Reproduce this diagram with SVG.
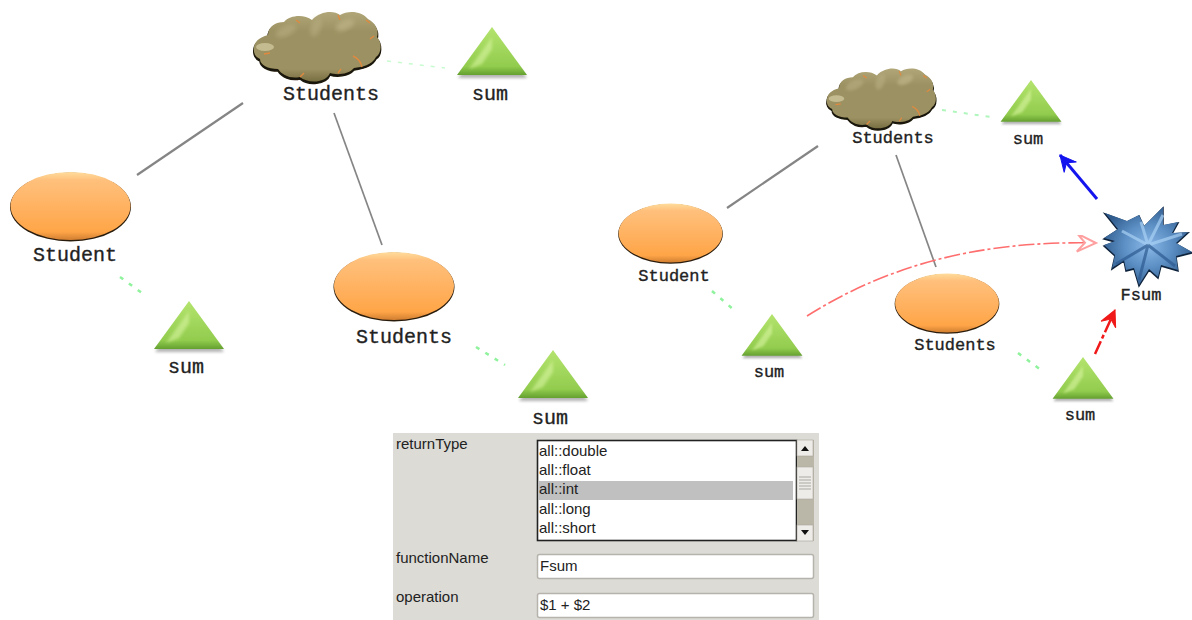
<svg xmlns="http://www.w3.org/2000/svg" width="1192" height="620" viewBox="0 0 1192 620">
<style>
.lbl{font-family:"Liberation Mono","DejaVu Sans Mono",monospace;text-anchor:middle;fill:#222;stroke:#222;stroke-width:.35}
.big{font-size:20px}.small{font-size:17px}
.ui{font-family:"Liberation Sans",Arial,sans-serif;font-size:15px;fill:#222}
.gray{stroke:#858585;fill:none}
.dot{stroke:#8ff29c;stroke-width:2.5;stroke-dasharray:4 7;fill:none}
.field{fill:#fff;stroke:#b5b3ac;stroke-width:1.5}
</style>
<defs>
<linearGradient id="og" x1="0" y1="0" x2="0" y2="1"><stop offset="0" stop-color="#ffdc9c"/><stop offset=".12" stop-color="#ffc07c"/><stop offset=".88" stop-color="#ffa548"/><stop offset="1" stop-color="#d07e30"/></linearGradient>
<linearGradient id="tg" x1="0" y1="0" x2="0" y2="1"><stop offset="0" stop-color="#b4e46e"/><stop offset=".82" stop-color="#92cc4e"/><stop offset="1" stop-color="#64a030"/></linearGradient>
<linearGradient id="cg" x1="0" y1="0" x2="0" y2="1"><stop offset="0" stop-color="#b0a678"/><stop offset=".28" stop-color="#9c9162"/><stop offset=".82" stop-color="#9c9162"/><stop offset="1" stop-color="#776e42"/></linearGradient>
<radialGradient id="sg" cx=".5" cy=".5" r=".55"><stop offset="0" stop-color="#8ab8e8"/><stop offset=".5" stop-color="#5c8fc4"/><stop offset="1" stop-color="#2f5a8c"/></radialGradient>
<filter id="soft" x="-10%" y="-10%" width="120%" height="120%"><feGaussianBlur stdDeviation=".45"/></filter>
<filter id="sh" x="-20%" y="-20%" width="140%" height="140%"><feGaussianBlur stdDeviation="1.5"/></filter>
<filter id="blur2" x="-20%" y="-20%" width="140%" height="140%"><feGaussianBlur stdDeviation="2"/></filter>
<g id="oval" filter="url(#soft)">
<ellipse cx="0" cy="1" rx="60.5" ry="34.5" fill="#2a1c0c"/>
<ellipse cx="0" cy="0" rx="60" ry="34" fill="url(#og)"/>
</g>
<g id="tri">
<polygon points="-34,51 0,6 35,51" fill="#777" opacity=".55" filter="url(#sh)"/>
<polygon points="0,0 -35,48 35,48" fill="url(#tg)" filter="url(#soft)"/>
<polygon points="0,10 -23,42 -10,37 0,22" fill="#d8f4a0" opacity=".6" filter="url(#sh)"/>
</g>
<path id="cl" d="M0,38 C1,30 10,27 14,26 C14,17 22,13 30,13 C36,6 50,5 58,11 C66,2 80,1 86,6 C94,1 108,2 114,10 C122,14 125,22 123,28 C128,33 128,44 122,48 C118,56 108,58 100,59 C94,66 82,66 76,64 C72,74 54,75 46,68 C36,70 28,66 24,60 C14,60 6,56 6,50 C1,48 -1,43 0,38 Z"/>
<g id="cloud" filter="url(#soft)">
<use href="#cl" x="0" y="2" fill="#1a1608" stroke="#1a1608" stroke-width="1.5"/>
<use href="#cl" fill="url(#cg)"/>
<ellipse cx="11" cy="38" rx="9" ry="4" fill="#c4bb90" filter="url(#soft)"/>
<ellipse cx="32" cy="22" rx="11" ry="5" fill="#b4aa7e" opacity=".7" filter="url(#blur2)" transform="rotate(-25 32 22)"/>
<ellipse cx="62" cy="18" rx="5" ry="10" fill="#b4aa7e" opacity=".7" filter="url(#blur2)" transform="rotate(20 62 18)"/>
<ellipse cx="91" cy="16" rx="10" ry="5" fill="#bab084" opacity=".8" filter="url(#blur2)" transform="rotate(-25 91 16)"/>
<path d="M99,47 Q106,50 108,58 M42,11 L46,14 M10,45 L16,44 M84,6 L86,11 M112,11 L116,14 M116,30 L120,27 M46,68 L50,64 M84,64 L87,60" stroke="#e08a40" stroke-width="1.4" fill="none"/>
</g>
<path id="burst" d="M1105,213 L1127,221 L1139,215 L1144,226 L1163,207 L1163,225 L1178,222 L1172,233 L1188,232 L1176,243 L1192,252 L1176,256 L1178,270 L1161,265 L1158,277 L1149,269 L1139,285 L1134,268 L1126,270 L1124,260 L1112,268 L1115,255 L1104,245 L1115,241 L1104,238 L1118,229 Z"/>
<marker id="mb" markerUnits="userSpaceOnUse" markerWidth="22" markerHeight="22" refX="18" refY="10" orient="auto"><path d="M2,2 L18,10 L2,18 L8,10 Z" fill="#1414ee" stroke="#1414ee"/></marker>
<marker id="mr" markerUnits="userSpaceOnUse" markerWidth="22" markerHeight="22" refX="18" refY="10" orient="auto"><path d="M2,2 L18,10 L2,18 L8,10 Z" fill="#f01818" stroke="#f01818"/></marker>
<marker id="mp" markerUnits="userSpaceOnUse" markerWidth="26" markerHeight="26" refX="22" refY="12" orient="auto"><path d="M3,3 L22,12 L3,21 L11,12 Z" fill="#fff" stroke="#ffa0a0" stroke-width="2"/></marker>
</defs>
<rect width="1192" height="620" fill="#fff"/>

<g id="connectors">
<path class="gray" stroke-width="2.2" d="M243,103 L137,175"/>
<path class="gray" stroke-width="1.7" d="M334,113 L382,245"/>
<path class="dot" style="stroke:#c8fbd0;stroke-width:1.5" d="M387,61 L445,68"/>
<path class="dot" d="M120,277 L146,296"/>
<path class="dot" d="M476,347 L505,365"/>
<path class="gray" stroke-width="2.2" d="M818,146 L727,208"/>
<path class="gray" stroke-width="1.7" d="M896,155 L936,267"/>
<path class="dot" style="stroke:#b0f6bc;stroke-width:2" d="M942,110 L991,117"/>
<path class="dot" d="M712,291 L734,310"/>
<path class="dot" d="M1018,353 L1041,370"/>
<path d="M807,316 C880,270 970,240 1096,243" fill="none" stroke="#ff6e6e" stroke-width="1.6" stroke-dasharray="16 3 3 3" marker-end="url(#mp)" filter="url(#soft)"/>
<path d="M1097,199 L1060,155" fill="none" stroke="#1414ee" stroke-width="3" marker-end="url(#mb)"/>
<path d="M1095,354 L1115,310" fill="none" stroke="#f01818" stroke-width="2.5" stroke-dasharray="14 3 4 3" marker-end="url(#mr)"/>
</g>

<g id="n1"><use href="#cloud" transform="translate(254,9)"/><text class="lbl big" x="331" y="100">Students</text></g>
<g id="n2"><use href="#tri" transform="translate(492,27)"/><text class="lbl big" x="490" y="100">sum</text></g>
<g id="n3"><use href="#oval" transform="translate(70.5,206)"/><text class="lbl big" x="75" y="261">Student</text></g>
<g id="n4"><use href="#tri" transform="translate(189,301)"/><text class="lbl big" x="186" y="373">sum</text></g>
<g id="n5"><use href="#oval" transform="translate(394,286)"/><text class="lbl big" x="404" y="343">Students</text></g>
<g id="n6"><use href="#tri" transform="translate(553,350)"/><text class="lbl big" x="550" y="424">sum</text></g>

<g id="n7"><use href="#cloud" transform="translate(827,66) scale(.86)"/><text class="lbl small" x="893" y="143">Students</text></g>
<g id="n8"><use href="#tri" transform="translate(1031,80) scale(.87)"/><text class="lbl small" x="1028" y="144">sum</text></g>
<g id="n9"><use href="#oval" transform="translate(670.5,233) scale(.865)"/><text class="lbl small" x="674" y="281">Student</text></g>
<g id="n10"><use href="#tri" transform="translate(772,314) scale(.87)"/><text class="lbl small" x="769" y="377">sum</text></g>
<g id="n11"><use href="#oval" transform="translate(947,303) scale(.865)"/><text class="lbl small" x="955" y="350">Students</text></g>
<g id="n12"><use href="#tri" transform="translate(1083,357) scale(.87)"/><text class="lbl small" x="1080" y="420">sum</text></g>
<g id="n13">
<g filter="url(#soft)"><use href="#burst" fill="#10243c" stroke="#10243c" stroke-width="1.5" y="1"/><use href="#burst" fill="url(#sg)"/>
<path d="M1148,245 L1122,231 M1148,245 L1163,215 M1148,245 L1182,234 M1148,245 L1141,222" stroke="#a8d0f4" stroke-width="3" opacity=".7" fill="none"/>
<path d="M1148,245 L1139,280 M1148,245 L1175,266 M1148,245 L1116,264" stroke="#2c5a90" stroke-width="3" opacity=".7" fill="none"/></g>
<text class="lbl small" x="1141" y="300">Fsum</text>
</g>

<g id="form">
<rect x="393" y="433" width="426" height="187" fill="#dcdbd6"/>
<text class="ui" x="396" y="449">returnType</text>
<text class="ui" x="396" y="563">functionName</text>
<text class="ui" x="396" y="602">operation</text>
<rect x="537.5" y="440.5" width="259" height="100" fill="#fff" stroke="#222" stroke-width="1.6"/>
<rect x="539" y="481" width="254" height="19" fill="#c0c0c0"/>
<text class="ui" x="539" y="456">all::double</text>
<text class="ui" x="539" y="475">all::float</text>
<text class="ui" x="539" y="494">all::int</text>
<text class="ui" x="539" y="514">all::long</text>
<text class="ui" x="539" y="533">all::short</text>
<rect x="797" y="440" width="17" height="101" fill="#bab7a9"/>
<rect x="797" y="440" width="16" height="16" fill="#eeece8" stroke="#a8a69c" stroke-width=".6"/>
<rect x="797" y="525" width="16" height="16" fill="#eeece8" stroke="#a8a69c" stroke-width=".6"/>
<path d="M801,451 L805,446 L809,451 Z M801,530 L809,530 L805,535 Z" fill="#111"/>
<rect x="797" y="467" width="16" height="32" fill="#eeece8" stroke="#aaa89e" stroke-width=".6"/>
<path d="M799,477 H811 M799,480 H811 M799,483 H811 M799,486 H811 M799,489 H811" stroke="#a8a8a0"/>
<rect class="field" x="537.5" y="554.5" width="276" height="24" rx="2"/>
<text class="ui" x="540" y="571">Fsum</text>
<rect class="field" x="537.5" y="593.5" width="276" height="24" rx="2"/>
<text class="ui" x="540" y="610">$1 + $2</text>
</g>
</svg>
